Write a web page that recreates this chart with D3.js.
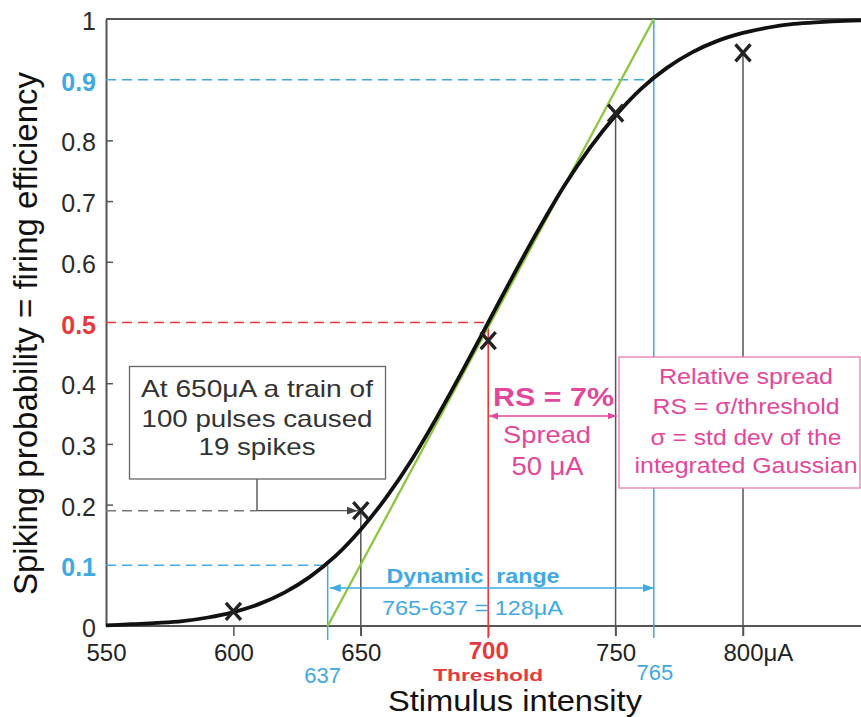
<!DOCTYPE html>
<html><head><meta charset="utf-8">
<script src="https://cdn.jsdelivr.net/npm/d3@7"></script>
<style>
html,body{margin:0;padding:0;background:#fff;}
svg{display:block;font-family:Arial,"Liberation Sans",Helvetica,sans-serif;}
</style></head><body>
<svg id="chart" width="861" height="717"></svg>
<script>
// Spiking probability vs. stimulus intensity (µA)
const xTicks = [550, 600, 650, 700, 750, 800];
const yTicks = [0, 0.1, 0.2, 0.3, 0.4, 0.5, 0.6, 0.7, 0.8, 0.9, 1];

// fitted integrated-Gaussian curve, sampled every 10 µA
const curveX = [550, 560, 570, 580, 590, 600, 610, 620, 630, 640, 650, 660, 670, 680, 690, 700,
                710, 720, 730, 740, 750, 760, 770, 780, 790, 800, 810, 820, 830, 840, 850];
const curveY = [0.001, 0.003, 0.005, 0.008, 0.014, 0.023, 0.036, 0.055, 0.081, 0.115, 0.159, 0.212,
                0.274, 0.345, 0.421, 0.5, 0.579, 0.655, 0.726, 0.788, 0.841, 0.885, 0.919, 0.945,
                0.964, 0.977, 0.986, 0.992, 0.995, 0.997, 0.998];

// measured firing efficiencies (spikes / pulses)
const trialX = [600, 650, 700, 750, 800];
const trialY = [0.024, 0.19, 0.47, 0.845, 0.944];

// tangent at the steepest point, from 0 to 1
const tangentX = [637, 765];
const tangentY = [0, 1];

const threshold = 700;   // 50 % point
const spread = 50;       // sigma, µA
const rangeLow = 637;    // 10 % point
const rangeHigh = 765;   // 90 % point
const levelLow = 0.1, levelMid = 0.5, levelHigh = 0.9;
const noteX = 650, noteY = 0.19;

const BLUE = "#3fa9e1", RED = "#e8373d", PINK = "#e2479b", PINK_BOX = "#e77bb2",
      GREEN = "#8cc63e", AXIS = "#555", INK = "#222";

const svg = d3.select("#chart");
const W = 861;
const x = d3.scaleLinear().domain([550, 800]).range([106, 743]);
const y = d3.scaleLinear().domain([0, 1]).range([626, 19]);

// arrow heads
const defs = svg.append("defs");
function arrowMarker(id, color, len, wid) {
  defs.append("marker").attr("id", id)
    .attr("markerUnits", "userSpaceOnUse")
    .attr("markerWidth", len).attr("markerHeight", wid)
    .attr("refX", len).attr("refY", wid / 2)
    .attr("orient", "auto-start-reverse")
    .append("path").attr("d", `M0,0L${len},${wid / 2}L0,${wid}Z`).attr("fill", color);
}
arrowMarker("arBlue", BLUE, 11, 8);
arrowMarker("arPink", PINK, 9, 7);
arrowMarker("arGray", "#444", 11, 8);

// frame: top line and baseline across the full width
svg.append("line").attr("x1", x(550)).attr("x2", W).attr("y1", y(1)).attr("y2", y(1))
  .attr("stroke", AXIS).attr("stroke-width", 2);
svg.append("line").attr("x1", x(550)).attr("x2", W).attr("y1", y(0)).attr("y2", y(0))
  .attr("stroke", AXIS).attr("stroke-width", 2);

// y axis
const gy = svg.append("g").attr("transform", `translate(${x(550)},0)`)
  .call(d3.axisLeft(y).tickValues(yTicks).tickSizeInner(-7).tickSizeOuter(0).tickPadding(10)
    .tickFormat(d3.format("~g")));
gy.select(".domain").attr("stroke", AXIS).attr("stroke-width", 2);
gy.selectAll(".tick line").attr("stroke", AXIS).attr("stroke-width", 1.5)
  .filter(d => [0, levelLow, levelMid, levelHigh, 1].includes(d)).remove();
gy.selectAll(".tick text").attr("font-size", 25).attr("fill", "#2a2a2a").attr("dy", "0.42em")
  .attr("font-family", "Arial, 'Liberation Sans', sans-serif");
gy.selectAll(".tick text").filter(d => d === levelLow || d === levelHigh)
  .attr("fill", BLUE).attr("font-weight", "bold");
gy.selectAll(".tick text").filter(d => d === levelMid)
  .attr("fill", RED).attr("font-weight", "bold");

// x axis
const gx = svg.append("g").attr("transform", `translate(0,${y(0)})`)
  .call(d3.axisBottom(x).tickValues(xTicks).tickSizeInner(10).tickSizeOuter(0).tickPadding(8)
    .tickFormat((d, i) => i === xTicks.length - 1 ? d + "μA" : String(d)));
gx.select(".domain").remove();
gx.selectAll(".tick line").attr("stroke", AXIS).attr("stroke-width", 1.5)
  .filter(d => d === 550).remove();
gx.selectAll(".tick text").attr("font-size", 24).attr("fill", INK)
  .attr("font-family", "Arial, 'Liberation Sans', sans-serif");
gx.selectAll(".tick text").filter(d => d === threshold)
  .attr("fill", RED).attr("font-weight", "bold").attr("dy", "0.63em");
gx.selectAll(".tick text").filter((d, i) => i === xTicks.length - 1)
  .attr("text-anchor", "start").attr("dx", "-0.834em");

// dashed guide lines at the 10 / 50 / 90 % levels
function hDash(val, toX, color) {
  svg.append("line").attr("x1", x(550)).attr("x2", x(toX)).attr("y1", y(val)).attr("y2", y(val))
    .attr("stroke", color).attr("stroke-width", 1.6).attr("stroke-dasharray", "10,6");
}
hDash(levelLow, rangeLow, BLUE);
hDash(levelMid, threshold, RED);
hDash(levelHigh, rangeHigh, BLUE);

// vertical drop lines
function vLine(xv, fromVal, toPx, color, w) {
  svg.append("line").attr("x1", x(xv)).attr("x2", x(xv)).attr("y1", y(fromVal)).attr("y2", toPx)
    .attr("stroke", color).attr("stroke-width", w);
}
vLine(rangeLow, levelLow, 640, BLUE, 1.5);
vLine(rangeHigh, 1, 638, BLUE, 1.5);
trialX.forEach((xv, i) => { if (xv > 600 && xv !== threshold) vLine(xv, trialY[i], 636, AXIS, 1.5); });
vLine(threshold, levelMid, 638, RED, 1.6);

// tangent line
svg.append("line")
  .attr("x1", x(tangentX[0])).attr("y1", y(tangentY[0]))
  .attr("x2", x(tangentX[1])).attr("y2", y(tangentY[1]))
  .attr("stroke", GREEN).attr("stroke-width", 2.3);

// fitted curve
const curvePts = curveX.map((v, i) => [v, curveY[i]]);
svg.append("path").datum(curvePts)
  .attr("d", d3.line().x(d => x(d[0])).y(d => y(d[1])).curve(d3.curveMonotoneX))
  .attr("fill", "none").attr("stroke", "#111").attr("stroke-width", 3.8);

// annotation: 650 µA trial
const boxCx = 257;
svg.append("line").attr("x1", x(550)).attr("x2", boxCx).attr("y1", y(noteY)).attr("y2", y(noteY))
  .attr("stroke", "#777").attr("stroke-width", 1.5).attr("stroke-dasharray", "10,6");
svg.append("line").attr("x1", boxCx).attr("x2", boxCx).attr("y1", 479).attr("y2", y(noteY))
  .attr("stroke", "#555").attr("stroke-width", 1.4);
svg.append("line").attr("x1", boxCx).attr("x2", x(noteX) - 3).attr("y1", y(noteY)).attr("y2", y(noteY))
  .attr("stroke", "#555").attr("stroke-width", 1.4).attr("marker-end", "url(#arGray)");
svg.append("rect").attr("x", 129.5).attr("y", 366.5).attr("width", 256).attr("height", 112.5)
  .attr("fill", "#fff").attr("stroke", "#666").attr("stroke-width", 1.3);
const noteLines = [["At 650μA a train of", 397, 232], ["100 pulses caused", 427, 231], ["19 spikes", 455, 117]];
noteLines.forEach(([t, ty, tl]) => {
  svg.append("text").attr("x", boxCx).attr("y", ty).attr("text-anchor", "middle")
    .attr("font-size", 24).attr("fill", "#333")
    .attr("textLength", tl).attr("lengthAdjust", "spacingAndGlyphs").text(t);
});

// relative-spread box
svg.append("rect").attr("x", 619).attr("y", 357).attr("width", 241).attr("height", 131)
  .attr("fill", "#fff").attr("stroke", PINK_BOX).attr("stroke-width", 1.3);
const rsLines = [["Relative spread", 384, 174], ["RS = σ/threshold", 414, 187],
                 ["σ = std dev of the", 445, 191], ["integrated Gaussian", 473, 223]];
rsLines.forEach(([t, ty, tl]) => {
  svg.append("text").attr("x", 746).attr("y", ty).attr("text-anchor", "middle")
    .attr("font-size", 22).attr("fill", PINK)
    .attr("textLength", tl).attr("lengthAdjust", "spacingAndGlyphs").text(t);
});

// spread arrow
svg.append("line").attr("x1", x(threshold) + 1).attr("x2", x(threshold + spread) + 1)
  .attr("y1", 416).attr("y2", 416).attr("stroke", PINK).attr("stroke-width", 1.4)
  .attr("marker-start", "url(#arPink)").attr("marker-end", "url(#arPink)");
svg.append("text").attr("x", 553.5).attr("y", 406).attr("text-anchor", "middle")
  .attr("font-size", 25).attr("font-weight", "bold").attr("fill", PINK)
  .attr("textLength", 121).attr("lengthAdjust", "spacingAndGlyphs").text("RS = 7%");
svg.append("text").attr("x", 547).attr("y", 443).attr("text-anchor", "middle")
  .attr("font-size", 24).attr("fill", PINK)
  .attr("textLength", 88).attr("lengthAdjust", "spacingAndGlyphs").text("Spread");
svg.append("text").attr("x", 547.5).attr("y", 475).attr("text-anchor", "middle")
  .attr("font-size", 25).attr("fill", PINK)
  .attr("textLength", 72).attr("lengthAdjust", "spacingAndGlyphs").text("50 μA");

// dynamic range arrow and labels
svg.append("line").attr("x1", x(rangeLow) + 2).attr("x2", x(rangeHigh))
  .attr("y1", 588).attr("y2", 588).attr("stroke", BLUE).attr("stroke-width", 1.5)
  .attr("marker-start", "url(#arBlue)").attr("marker-end", "url(#arBlue)");
svg.append("text").attr("x", 473).attr("y", 583).attr("text-anchor", "middle")
  .attr("font-size", 21).attr("font-weight", "bold").attr("fill", BLUE)
  .style("white-space", "pre")
  .attr("textLength", 173).attr("lengthAdjust", "spacingAndGlyphs").text("Dynamic  range");
svg.append("text").attr("x", 472.5).attr("y", 615).attr("text-anchor", "middle")
  .attr("font-size", 21).attr("fill", BLUE)
  .attr("textLength", 181).attr("lengthAdjust", "spacingAndGlyphs")
  .text(`${rangeHigh}-${rangeLow} = ${rangeHigh - rangeLow}μA`);

// range end values and threshold caption under the axis
svg.append("text").attr("x", x(rangeLow) - 5).attr("y", 683).attr("text-anchor", "middle")
  .attr("font-size", 22).attr("fill", BLUE).text(String(rangeLow));
svg.append("text").attr("x", x(rangeHigh) + 1).attr("y", 680).attr("text-anchor", "middle")
  .attr("font-size", 22).attr("fill", BLUE).text(String(rangeHigh));
svg.append("text").attr("x", x(threshold)).attr("y", 681).attr("text-anchor", "middle")
  .attr("font-size", 17).attr("font-weight", "bold").attr("fill", RED)
  .attr("textLength", 110).attr("lengthAdjust", "spacingAndGlyphs").text("Threshold");

// measured points
svg.append("g").selectAll("path").data(trialX.map((v, i) => [v, trialY[i]])).join("path")
  .attr("transform", d => `translate(${x(d[0])},${y(d[1])})`)
  .attr("d", "M-7.5,-8.5L7.5,8.5M-7.5,8.5L7.5,-8.5")
  .attr("stroke", INK).attr("stroke-width", 3.4).attr("fill", "none");

// axis titles
svg.append("text").attr("x", 515).attr("y", 711).attr("text-anchor", "middle")
  .attr("font-size", 29).attr("fill", "#111")
  .attr("textLength", 254).attr("lengthAdjust", "spacingAndGlyphs").text("Stimulus intensity");
svg.append("text").attr("transform", "translate(37,333.5) rotate(-90)").attr("text-anchor", "middle")
  .attr("font-size", 33).attr("fill", "#111").text("Spiking probability = firing efficiency");
</script>
</body></html>
